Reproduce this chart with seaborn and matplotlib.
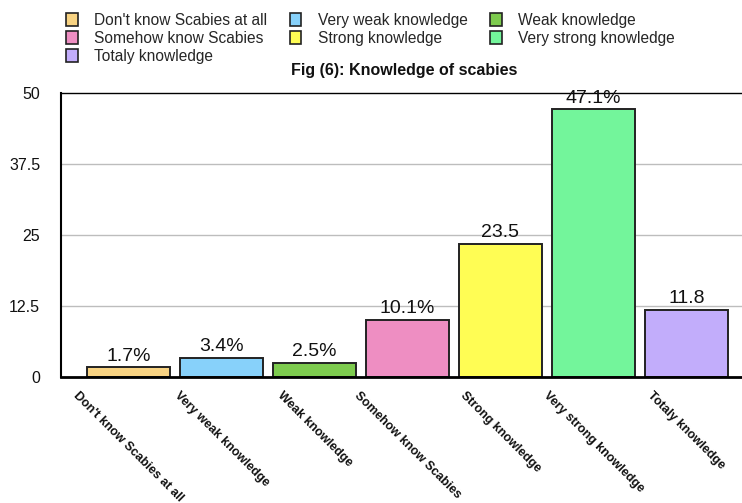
import matplotlib
matplotlib.use("Agg")
import matplotlib.pyplot as plt
import seaborn as sns
import pandas as pd
from matplotlib.patches import Rectangle

categories = [
    "Don't know Scabies at all",
    "Very weak knowledge",
    "Weak knowledge",
    "Somehow know Scabies",
    "Strong knowledge",
    "Very strong knowledge",
    "Totaly knowledge",
]
values = [1.7, 3.4, 2.5, 10.1, 23.5, 47.1, 11.8]
value_labels = ["1.7%", "3.4%", "2.5%", "10.1%", "23.5", "47.1%", "11.8"]
colors = ["#F8D382", "#87D1FA", "#7DCB4E", "#EE8EC2", "#FFFD54", "#73F59B", "#C2ADFB"]
y_ticks = [0, 12.5, 25, 37.5, 50]
y_tick_labels = ["0", "12.5", "25", "37.5", "50"]
title = "Fig (6): Knowledge of scabies"

df = pd.DataFrame({"category": categories, "value": values})

sns.set_theme(style="white")
plt.rcParams["font.family"] = ["Liberation Sans", "DejaVu Sans"]

W, H = 742, 503
fig = plt.figure(figsize=(W / 100, H / 100), dpi=100)
ax = fig.add_axes([61 / W, (H - 377) / H, (W - 61) / W, (377 - 93) / H])

sns.barplot(
    data=df, x="category", y="value", hue="category",
    palette=colors, dodge=False, width=0.89, legend=False,
    edgecolor="#222222", linewidth=1.4, saturation=1, ax=ax,
)

ax.set_xlim(-0.726, 6.597)
ax.set_ylim(0, 50)
ax.set_yticks(y_ticks)
ax.set_yticklabels(y_tick_labels, fontsize=11.5, color="#111111")
ax.tick_params(axis="y", length=0, pad=15)
ax.tick_params(axis="x", length=0, pad=9)
ax.set_xlabel("")
ax.set_ylabel("")

ax.set_xticks(range(len(categories)))
ax.set_xticklabels(categories, rotation=-45, ha="center", va="top",
                   fontsize=9, fontweight="bold", color="#111111")

for y in y_ticks[1:-1]:
    ax.axhline(y, color="#BDBDBD", linewidth=1.0, zorder=0)

ax.spines["right"].set_visible(False)
ax.spines["top"].set_linewidth(1.0)
ax.spines["top"].set_color("black")
ax.spines["left"].set_linewidth(1.5)
ax.spines["left"].set_color("black")
ax.spines["bottom"].set_linewidth(2.0)
ax.spines["bottom"].set_color("black")

for i, (v, lab) in enumerate(zip(values, value_labels)):
    ax.annotate(lab, (i, v), xytext=(0, 2), textcoords="offset points",
                ha="center", va="bottom", fontsize=14, color="#111111")

# legend laid out row-wise in three columns
order = [0, 3, 6, 1, 4, 2, 5]
handles = [Rectangle((0, 0), 1, 1, facecolor=colors[i], edgecolor="#222222", linewidth=1.2)
           for i in order]
labels = [categories[i] for i in order]
fig.legend(handles, labels, loc="upper left", bbox_to_anchor=(66 / W, 1 - 13 / H),
           ncol=3, frameon=False, fontsize=11.2, handlelength=0.75, handleheight=0.9,
           handletextpad=1.05, columnspacing=1.45, labelspacing=0.2, borderpad=0,
           borderaxespad=0)

fig.text(404 / W, 1 - 70 / H, title, ha="center", va="center",
         fontsize=11.5, fontweight="bold", color="#111111")

fig.savefig("out.png", dpi=100)
